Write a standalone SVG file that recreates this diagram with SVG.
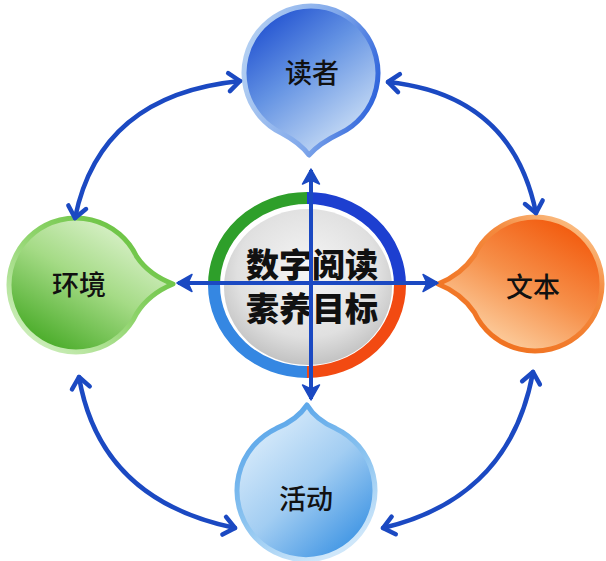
<svg xmlns="http://www.w3.org/2000/svg" width="606" height="561" viewBox="0 0 606 561">
<style>
.lbl{font-family:"Noto Sans CJK SC","Noto Sans",sans-serif;font-size:27px;font-weight:500;fill:#111;text-anchor:middle;dominant-baseline:central}
.title{font-family:"Noto Sans CJK SC","Noto Sans",sans-serif;font-size:33px;font-weight:900;fill:#111;text-anchor:middle;dominant-baseline:central}
.curve{fill:none;stroke:#1b49c2;stroke-width:4.5;stroke-linecap:round;marker-start:url(#chev);marker-end:url(#chev)}
.cross{fill:none;stroke:#1b49c2;stroke-width:4;marker-start:url(#tri);marker-end:url(#tri)}
.ring{fill:none;stroke-width:12}
.bub{stroke-width:5;stroke-linejoin:round}
</style>
<defs>
<marker id="chev" markerUnits="userSpaceOnUse" markerWidth="30" markerHeight="30" viewBox="-15 -15 30 30" refX="0" refY="0" orient="auto-start-reverse" overflow="visible">
<path d="M-11,-9 L0,0 L-11,9" fill="none" stroke="#1b49c2" stroke-width="4.5" stroke-linecap="round" stroke-linejoin="round"/>
</marker>
<marker id="tri" markerUnits="userSpaceOnUse" markerWidth="30" markerHeight="30" viewBox="-15 -15 30 30" refX="0" refY="0" orient="auto-start-reverse" overflow="visible">
<path d="M1,0 L-14,-8.5 L-10,0 L-14,8.5 Z" fill="#1b49c2" stroke="#1b49c2" stroke-width="1.5" stroke-linejoin="round"/>
</marker>
<linearGradient id="fTop" x1="0.1" y1="0.05" x2="0.75" y2="0.95">
<stop offset="0" stop-color="#1c4ccf"/><stop offset="0.45" stop-color="#6493e3"/><stop offset="1" stop-color="#cde0f6"/>
</linearGradient>
<linearGradient id="sTop" x1="0" y1="0.3" x2="1" y2="0.6">
<stop offset="0" stop-color="#b3cff2"/><stop offset="0.6" stop-color="#7ea6ea"/><stop offset="1" stop-color="#2e63db"/>
</linearGradient>
<linearGradient id="fLeft" x1="0.85" y1="0.05" x2="0.2" y2="0.95">
<stop offset="0" stop-color="#e6f6da"/><stop offset="0.5" stop-color="#a5db86"/><stop offset="1" stop-color="#48ab27"/>
</linearGradient>
<linearGradient id="sLeft" x1="0.9" y1="0.1" x2="0.1" y2="0.9">
<stop offset="0" stop-color="#62bf38"/><stop offset="0.5" stop-color="#8fd46c"/><stop offset="1" stop-color="#cdeebb"/>
</linearGradient>
<linearGradient id="fRight" x1="0.85" y1="0.05" x2="0.25" y2="0.95">
<stop offset="0" stop-color="#f2570a"/><stop offset="0.5" stop-color="#f6904a"/><stop offset="1" stop-color="#fdd6aa"/>
</linearGradient>
<linearGradient id="sRight" x1="0.9" y1="0" x2="0.2" y2="0.9">
<stop offset="0" stop-color="#fcc891"/><stop offset="0.35" stop-color="#f48a3e"/><stop offset="1" stop-color="#f0701e"/>
</linearGradient>
<linearGradient id="fBot" x1="0.15" y1="0.1" x2="0.85" y2="0.95">
<stop offset="0" stop-color="#dcedfb"/><stop offset="0.5" stop-color="#a2cdf2"/><stop offset="1" stop-color="#3a92e3"/>
</linearGradient>
<linearGradient id="sBot" x1="0.1" y1="0" x2="0.6" y2="1">
<stop offset="0" stop-color="#4f9fe8"/><stop offset="0.6" stop-color="#8cc4f0"/><stop offset="1" stop-color="#cfe7fa"/>
</linearGradient>
<radialGradient id="gCore" cx="0.5" cy="0.4" r="0.6">
<stop offset="0" stop-color="#f6f6f6"/><stop offset="0.7" stop-color="#e0e0e0"/><stop offset="1" stop-color="#c2c2c2"/>
</radialGradient>
</defs>

<g id="node-reader">
<path class="bub" fill="url(#fTop)" stroke="url(#sTop)" d="M282.3,133.6 A67 67 0 1 1 339.7,133.6 Q320,143 309,155 Q300,143 282.3,133.6 Z"/>
<text class="lbl" x="312" y="71">读者</text>
</g>

<g id="node-env">
<path class="bub" fill="url(#fLeft)" stroke="url(#sLeft)" d="M136.7,313.3 A67 67 0 1 1 136.7,256.7 Q149,275 173,284 Q149,294 136.7,313.3 Z"/>
<text class="lbl" x="79" y="283">环境</text>
</g>

<g id="node-text">
<path class="bub" fill="url(#fRight)" stroke="url(#sRight)" d="M474.3,255.7 A67 67 0 1 1 474.3,312.3 Q461,293 438,284 Q461,275 474.3,255.7 Z"/>
<text class="lbl" x="533" y="285">文本</text>
</g>

<g id="node-activity">
<path class="bub" fill="url(#fBot)" stroke="url(#sBot)" d="M335.7,428.4 A69 69 0 1 1 276.3,428.4 Q297,420 307,405 Q316,420 335.7,428.4 Z"/>
<text class="lbl" x="306" y="497">活动</text>
</g>

<g id="node-center">
<ellipse cx="307" cy="285" rx="92" ry="86" fill="#ffffff"/>
<ellipse cx="308" cy="287" rx="84" ry="78" fill="url(#gCore)"/>
<path class="ring" stroke="#2e9f2a" d="M214,285 A93 87 0 0 1 307,198"/>
<path class="ring" stroke="#1d3fd0" d="M307,198 A93 87 0 0 1 400,285"/>
<path class="ring" stroke="#f24a12" d="M400,285 A93 87 0 0 1 307,372"/>
<path class="ring" stroke="#3587e2" d="M307,372 A93 87 0 0 1 214,285"/>
<text class="title" x="312" y="263">数字阅读</text>
<text class="title" x="312" y="307">素养目标</text>
</g>

<g id="connectors">
<path class="curve" d="M240,81 Q100,95 75,218"/>
<path class="curve" d="M388,82 Q512,95 536,213"/>
<path class="curve" d="M79,377 Q100,500 235,528"/>
<path class="curve" d="M533,372 Q510,498 383,528"/>
<path class="cross" d="M311,170 L311,399"/>
<path class="cross" d="M178,283 L437,283"/>
</g>
</svg>
